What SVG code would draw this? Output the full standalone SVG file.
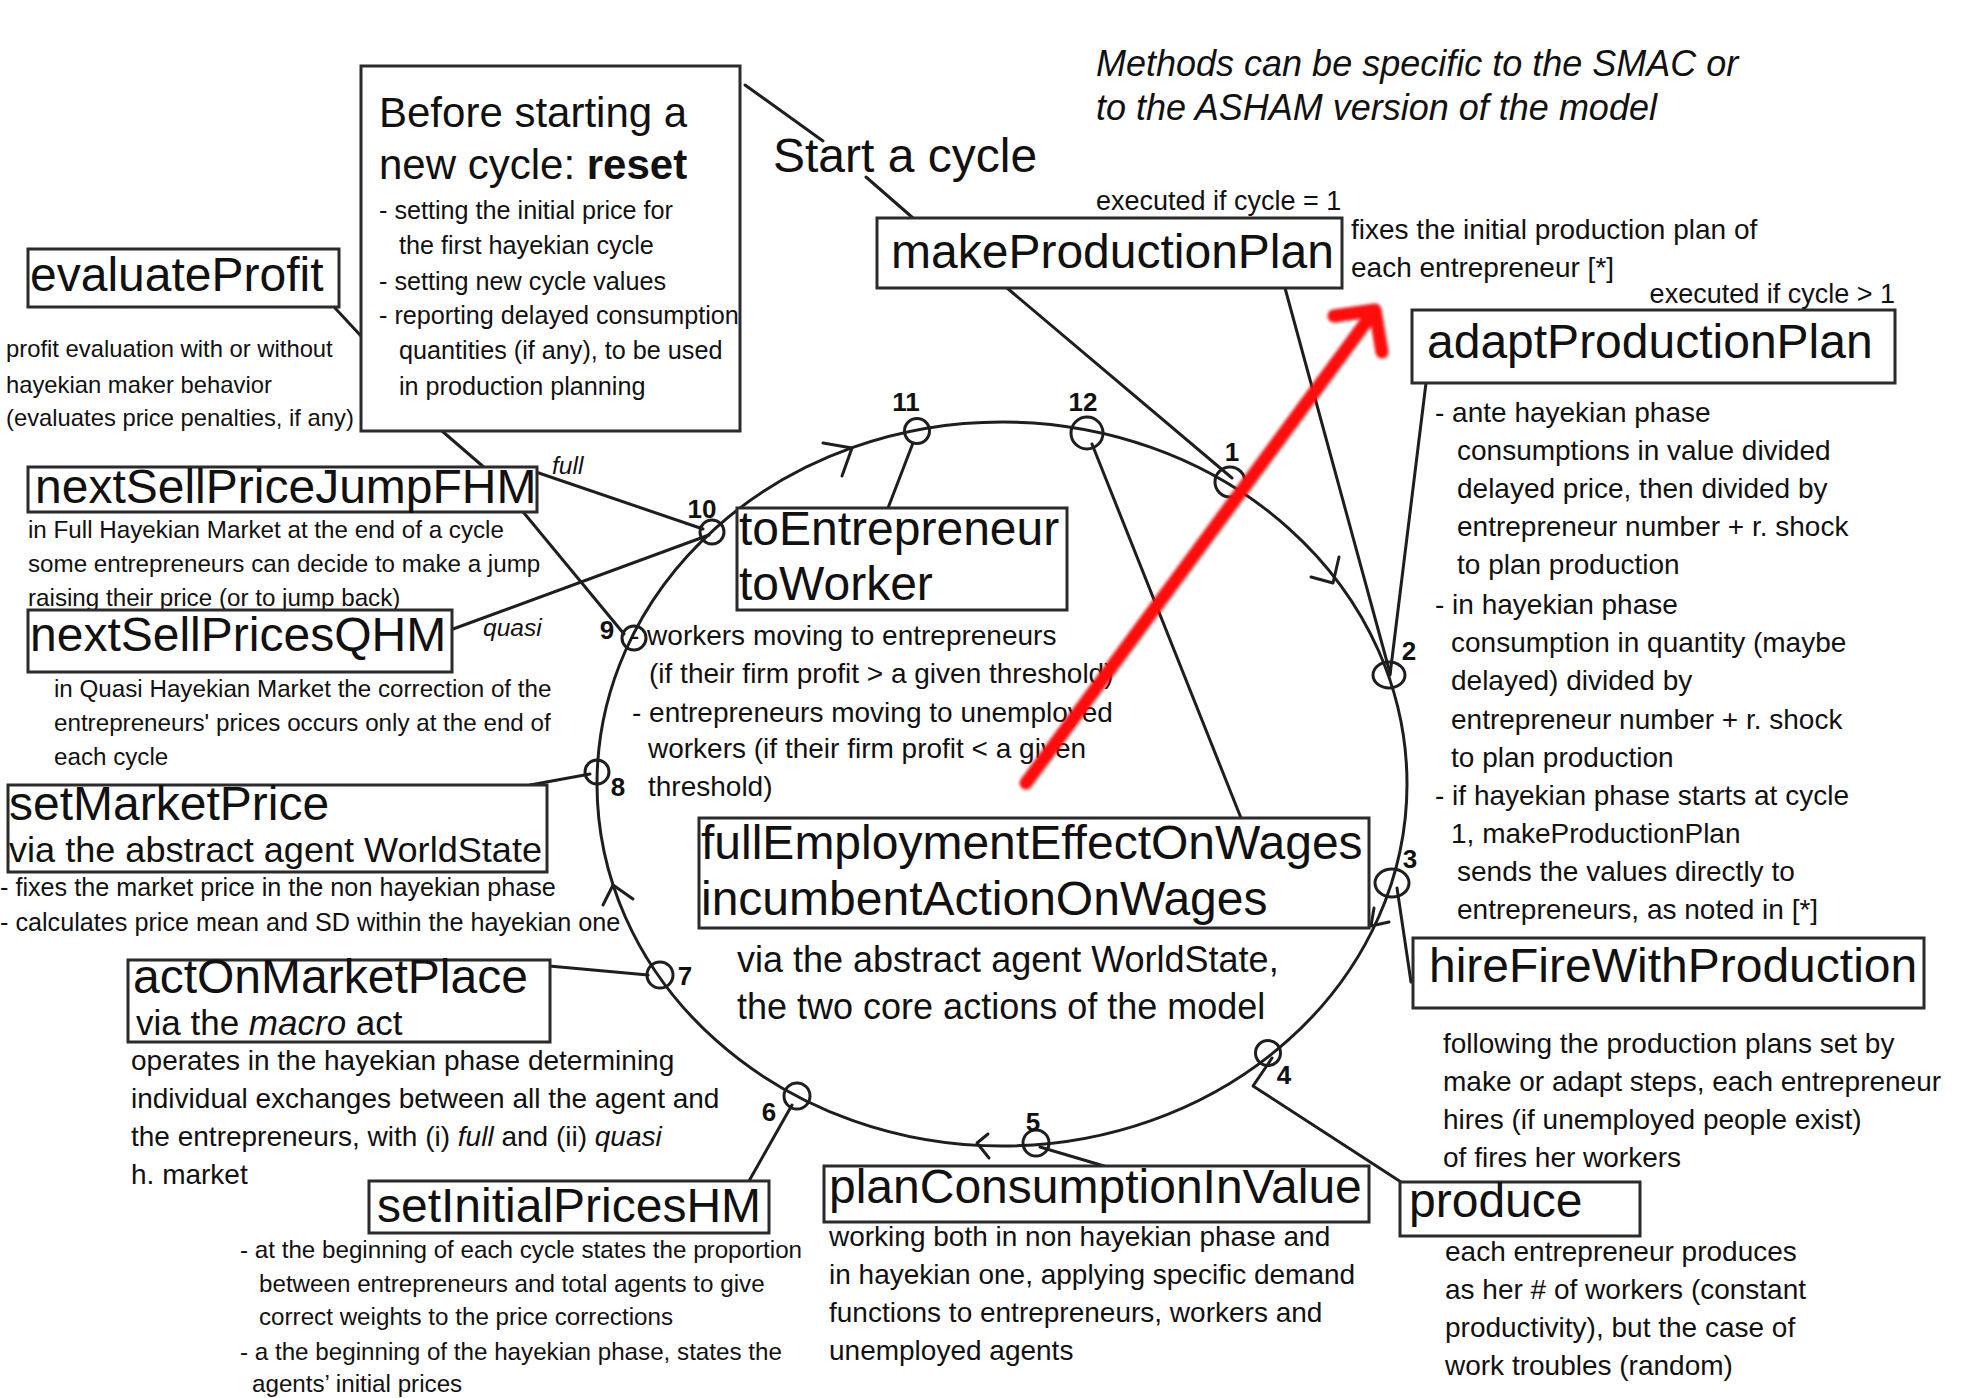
<svg xmlns="http://www.w3.org/2000/svg" width="1981" height="1398" viewBox="0 0 1981 1398">
<defs>
<style>
text{font-family:"Liberation Sans",Arial,sans-serif;fill:#111}
.box{fill:#fff;stroke:#2b2b2b;stroke-width:3}
.ln{fill:none;stroke:#1e1e1e;stroke-width:3;stroke-linecap:round;stroke-linejoin:round}
.h{font-size:48px}
.s{font-size:36px}
.s2{font-size:35px}
.b{font-size:28px}
.m{font-size:24.5px}
.e{font-size:27px}
.n{font-size:26px;font-weight:bold;text-anchor:middle}
.i{font-style:italic}
</style>
<filter id="soft" x="-10%" y="-10%" width="120%" height="120%"><feGaussianBlur stdDeviation="1.6"/></filter>
</defs>
<rect width="1981" height="1398" fill="#fff"/>

<g id="connectors" class="ln">
<ellipse cx="1002" cy="784" rx="405" ry="362"/>
<polyline points="823,443 852,448 842,476"/>
<polyline points="1311,577 1333,583 1339,557"/>
<polyline points="1389,922 1371,926 1374,908"/>
<polyline points="988,1134 977,1143 989,1158"/>
<polyline points="603,905 613,885 633,899"/>
<line x1="745" y1="85" x2="823" y2="141"/>
<line x1="866" y1="177" x2="913" y2="218"/>
<line x1="335" y1="308" x2="361" y2="336"/>
<polyline points="442,431 486,469 524,513 624,634"/>
<line x1="530" y1="470" x2="703" y2="529"/>
<line x1="453" y1="629" x2="709" y2="535"/>
<line x1="913" y1="443" x2="888" y2="508"/>
<line x1="1092" y1="444" x2="1241" y2="818"/>
<line x1="1007" y1="288" x2="1232" y2="478"/>
<line x1="1285" y1="288" x2="1390" y2="673"/>
<line x1="1426" y1="383" x2="1390" y2="675"/>
<line x1="1397" y1="888" x2="1411" y2="982"/>
<polyline points="1272,1058 1253,1086 1401,1182"/>
<line x1="1040" y1="1147" x2="1104" y2="1166"/>
<line x1="792" y1="1105" x2="749" y2="1181"/>
<line x1="648" y1="975" x2="549" y2="966"/>
<line x1="590" y1="774" x2="530" y2="785"/>
</g>

<g id="steps" class="ln">
<g id="step-1"><circle cx="1230" cy="482" r="15"/><text class="n" x="1232" y="461" stroke="none">1</text></g>
<g id="step-2"><ellipse cx="1389" cy="675" rx="16" ry="13"/><text class="n" x="1409" y="660" stroke="none">2</text></g>
<g id="step-3"><ellipse cx="1392" cy="883" rx="17" ry="14"/><text class="n" x="1410" y="868" stroke="none">3</text></g>
<g id="step-4"><circle cx="1268" cy="1053" r="12.5"/><text class="n" x="1284" y="1084" stroke="none">4</text></g>
<g id="step-5"><circle cx="1036" cy="1143" r="13"/><text class="n" x="1033" y="1131" stroke="none">5</text></g>
<g id="step-6"><circle cx="797" cy="1096" r="13"/><text class="n" x="769" y="1121" stroke="none">6</text></g>
<g id="step-7"><circle cx="660" cy="975" r="13"/><text class="n" x="685" y="985" stroke="none">7</text></g>
<g id="step-8"><circle cx="597" cy="772" r="12"/><text class="n" x="618" y="796" stroke="none">8</text></g>
<g id="step-9"><circle cx="634" cy="638" r="12"/><text class="n" x="607" y="639" stroke="none">9</text></g>
<g id="step-10"><circle cx="712" cy="532" r="12"/><text class="n" x="702" y="518" stroke="none">10</text></g>
<g id="step-11"><circle cx="917" cy="431" r="12.5"/><text class="n" x="906" y="411" stroke="none">11</text></g>
<g id="step-12"><circle cx="1087" cy="433" r="16"/><text class="n" x="1083" y="411" stroke="none">12</text></g>
</g>

<g id="note-methods">
<text class="s i" x="1096" y="76">Methods can be specific to the SMAC or</text>
<text class="s i" x="1096" y="120">to the ASHAM version of the model</text>
</g>

<g id="start-cycle">
<text class="h" x="773" y="172">Start a cycle</text>
</g>

<g id="reset">
<rect class="box" x="361" y="66" width="379" height="365"/>
<text x="379" y="127" font-size="42">Before starting a</text>
<text x="379" y="179" font-size="42">new cycle: <tspan font-weight="bold">reset</tspan></text>
<text x="379" y="219" font-size="25.2">- setting the initial price for</text>
<text x="399" y="254" font-size="25.2">the first hayekian cycle</text>
<text x="379" y="290" font-size="25.2">- setting new cycle values</text>
<text x="379" y="324" font-size="25.2">- reporting delayed consumption</text>
<text x="399" y="359" font-size="25.2">quantities (if any), to be used</text>
<text x="399" y="395" font-size="25.2">in production planning</text>
</g>

<g id="evaluateProfit">
<rect class="box" x="28" y="249" width="311" height="58"/>
<text class="h" x="30" y="291">evaluateProfit</text>
<text x="6" y="357" font-size="23.8">profit evaluation with or without</text>
<text x="6" y="393" font-size="23.8">hayekian maker behavior</text>
<text x="6" y="426" font-size="23.8">(evaluates price penalties, if any)</text>
</g>

<g id="nextSellPriceJumpFHM">
<rect class="box" x="28" y="467" width="509" height="45"/>
<text class="h" x="35" y="503">nextSellPriceJumpFHM</text>
<text class="m i" x="552" y="474">full</text>
<text x="28" y="538" font-size="24.2">in Full Hayekian Market at the end of a cycle</text>
<text x="28" y="572" font-size="24.2">some entrepreneurs can decide to make a jump</text>
<text x="28" y="606" font-size="24.2">raising their price (or to jump back)</text>
</g>

<g id="nextSellPricesQHM">
<rect class="box" x="28" y="610" width="424" height="62"/>
<text class="h" x="30" y="651">nextSellPricesQHM</text>
<text class="m i" x="483" y="636">quasi</text>
<text x="54" y="697" font-size="24.2">in Quasi Hayekian Market the correction of the</text>
<text x="54" y="731" font-size="24.2">entrepreneurs' prices occurs only at the end of</text>
<text x="54" y="765" font-size="24.2">each cycle</text>
</g>

<g id="setMarketPrice">
<rect class="box" x="8" y="785" width="539" height="87"/>
<text class="h" x="9" y="820">setMarketPrice</text>
<text class="s2" x="9" y="862" textLength="533" lengthAdjust="spacingAndGlyphs">via the abstract agent WorldState</text>
<text x="0" y="896" font-size="25.2">- fixes the market price in the non hayekian phase</text>
<text x="0" y="931" font-size="25.2">- calculates price mean and SD within the hayekian one</text>
</g>

<g id="actOnMarketPlace">
<rect class="box" x="128" y="960" width="422" height="82"/>
<text class="h" x="133" y="993">actOnMarketPlace</text>
<text class="s2" x="136" y="1035">via the <tspan class="i">macro</tspan> act</text>
<text class="b" x="131" y="1070">operates in the hayekian phase determining</text>
<text class="b" x="131" y="1108">individual exchanges between all the agent and</text>
<text class="b" x="131" y="1146">the entrepreneurs, with (i) <tspan class="i">full</tspan> and (ii) <tspan class="i">quasi</tspan></text>
<text class="b" x="131" y="1184">h. market</text>
</g>

<g id="setInitialPricesHM">
<rect class="box" x="369" y="1181" width="400" height="52"/>
<text class="h" x="377" y="1222">setInitialPricesHM</text>
<text x="240" y="1258" font-size="24.2">- at the beginning of each cycle states the proportion</text>
<text x="259" y="1292" font-size="24.2">between entrepreneurs and total agents to give</text>
<text x="259" y="1325" font-size="24.2">correct weights to the price corrections</text>
<text x="240" y="1360" font-size="24.2">- a the beginning of the hayekian phase, states the</text>
<text x="252" y="1392" font-size="24.2">agents’ initial prices</text>
</g>

<g id="toEntrepreneur-toWorker">
<rect class="box" x="737" y="508" width="330" height="102"/>
<text class="h" x="739" y="545">toEntrepreneur</text>
<text class="h" x="739" y="600">toWorker</text>
<text class="b" x="630" y="645">- workers moving to entrepreneurs</text>
<text class="b" x="649" y="683">(if their firm profit &gt; a given threshold)</text>
<text class="b" x="632" y="722">- entrepreneurs moving to unemployed</text>
<text class="b" x="648" y="758">workers (if their firm profit &lt; a given</text>
<text class="b" x="648" y="796">threshold)</text>
</g>

<g id="fullEmploymentEffectOnWages-incumbentActionOnWages">
<rect class="box" x="699" y="818" width="670" height="110"/>
<text class="h" x="701" y="859">fullEmploymentEffectOnWages</text>
<text class="h" x="701" y="915">incumbentActionOnWages</text>
<text class="s" x="737" y="972">via the abstract agent WorldState,</text>
<text class="s" x="737" y="1019">the two core actions of the model</text>
</g>

<g id="makeProductionPlan">
<rect class="box" x="877" y="218" width="465" height="70"/>
<text class="h" x="891" y="268">makeProductionPlan</text>
<text class="e" x="1096" y="210">executed if cycle = 1</text>
<text class="b" x="1351" y="239">fixes the initial production plan of</text>
<text class="b" x="1351" y="277">each entrepreneur [*]</text>
</g>

<g id="adaptProductionPlan">
<rect class="box" x="1412" y="310" width="483" height="73"/>
<text class="h" x="1427" y="358">adaptProductionPlan</text>
<text class="e" x="1895" y="303" text-anchor="end">executed if cycle &gt; 1</text>
<text class="b" x="1435" y="422">- ante hayekian phase</text>
<text class="b" x="1457" y="460">consumptions in value divided</text>
<text class="b" x="1457" y="498">delayed price, then divided by</text>
<text class="b" x="1457" y="536">entrepreneur number + r. shock</text>
<text class="b" x="1457" y="574">to plan production</text>
<text class="b" x="1435" y="614">- in hayekian phase</text>
<text class="b" x="1451" y="652">consumption in quantity (maybe</text>
<text class="b" x="1451" y="690">delayed) divided by</text>
<text class="b" x="1451" y="729">entrepreneur number + r. shock</text>
<text class="b" x="1451" y="767">to plan production</text>
<text class="b" x="1435" y="805">- if hayekian phase starts at cycle</text>
<text class="b" x="1451" y="843">1, makeProductionPlan</text>
<text class="b" x="1457" y="881">sends the values directly to</text>
<text class="b" x="1457" y="919">entrepreneurs, as noted in [*]</text>
</g>

<g id="hireFireWithProduction">
<rect class="box" x="1413" y="938" width="511" height="70"/>
<text class="h" x="1429" y="982">hireFireWithProduction</text>
<text class="b" x="1443" y="1053">following the production plans set by</text>
<text class="b" x="1443" y="1091">make or adapt steps, each entrepreneur</text>
<text class="b" x="1443" y="1129">hires (if unemployed people exist)</text>
<text class="b" x="1443" y="1167">of fires her workers</text>
</g>

<g id="produce">
<rect class="box" x="1400" y="1182" width="240" height="54"/>
<text class="h" x="1409" y="1217">produce</text>
<text class="b" x="1445" y="1261">each entrepreneur produces</text>
<text class="b" x="1445" y="1299">as her # of workers (constant</text>
<text class="b" x="1445" y="1337">productivity), but the case of</text>
<text class="b" x="1445" y="1375">work troubles (random)</text>
</g>

<g id="planConsumptionInValue">
<rect class="box" x="824" y="1166" width="545" height="56"/>
<text class="h" x="829" y="1203">planConsumptionInValue</text>
<text class="b" x="829" y="1246">working both in non hayekian phase and</text>
<text class="b" x="829" y="1284">in hayekian one, applying specific demand</text>
<text class="b" x="829" y="1322">functions to entrepreneurs, workers and</text>
<text class="b" x="829" y="1360">unemployed agents</text>
</g>

<g id="red-arrow" filter="url(#soft)" fill="none" stroke="#ff0a0a" stroke-width="13" stroke-linecap="round" stroke-linejoin="round">
<line x1="1026" y1="783" x2="1372" y2="314"/>
<polyline points="1334,316 1375,310 1382,352"/>
</g>
</svg>
